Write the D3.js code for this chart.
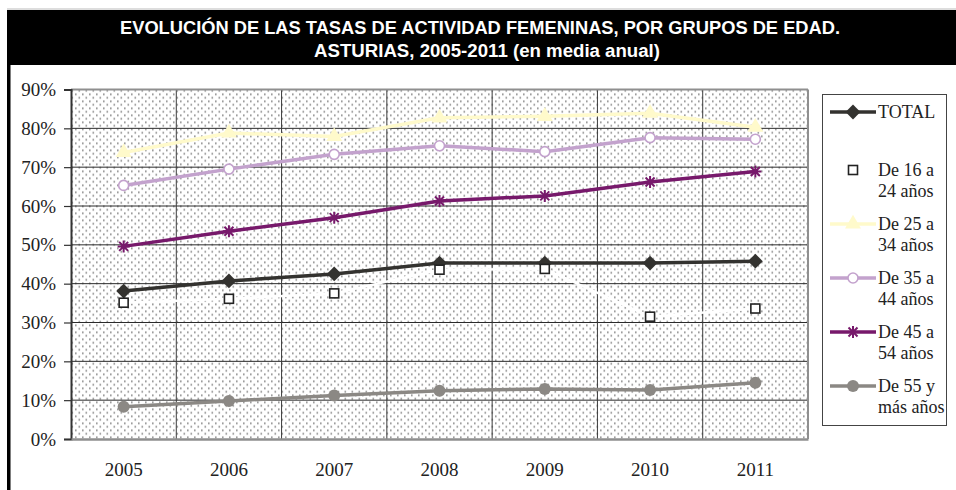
<!DOCTYPE html>
<html>
<head>
<meta charset="utf-8">
<script src="https://cdn.jsdelivr.net/npm/d3@7"></script>
<style>
  body { margin: 0; background: #fff; }
  svg { display: block; }
  .serif { font-family: 'Liberation Serif', 'Times New Roman', serif; }
</style>
</head>
<body>
<div id="chart"></div>
<script>
// Data (percentages)
const years = ["2005", "2006", "2007", "2008", "2009", "2010", "2011"];
const total   = [38.1, 40.7, 42.5, 45.3, 45.3, 45.3, 45.8];
const de16a24 = [35.1, 36.1, 37.5, 43.6, 43.8, 31.5, 33.6];
const de25a34 = [73.8, 78.8, 77.9, 82.7, 83.1, 83.9, 80.3];
const de35a44 = [65.3, 69.5, 73.3, 75.5, 74.0, 77.6, 77.2];
const de45a54 = [49.6, 53.5, 57.0, 61.3, 62.6, 66.2, 68.9];
const de55mas = [8.3, 9.8, 11.2, 12.4, 12.9, 12.6, 14.5];
const yTicks = [0, 10, 20, 30, 40, 50, 60, 70, 80, 90];

const series = [
  {name: ["TOTAL"], values: total, color: "#33322f", marker: "diamond"},
  {name: ["De 16 a", "24 años"], values: de16a24, color: "#ffffff", marker: "square"},
  {name: ["De 25 a", "34 años"], values: de25a34, color: "#fffacb", marker: "triangle"},
  {name: ["De 35 a", "44 años"], values: de35a44, color: "#c3a2cd", marker: "ring"},
  {name: ["De 45 a", "54 años"], values: de45a54, color: "#77196b", marker: "asterisk"},
  {name: ["De 55 y", "más años"], values: de55mas, color: "#8b8884", marker: "dot"}
];

const W = 956, H = 490;
const margin = {top: 89.5, right: 148, bottom: 51, left: 71};
const width = W - margin.left - margin.right,
    height = H - margin.top - margin.bottom;

const svg = d3.select("#chart").append("svg")
    .attr("width", W)
    .attr("height", H);

// dotted fill pattern
const defs = svg.append("defs");
const pat = defs.append("pattern")
    .attr("id", "dots")
    .attr("patternUnits", "userSpaceOnUse")
    .attr("width", 7).attr("height", 7);
pat.append("rect").attr("width", 7).attr("height", 7).attr("fill", "#fff");
pat.append("rect").attr("x", 0.5).attr("y", 0.5).attr("width", 1.6).attr("height", 1.6).attr("fill", "#858585");
pat.append("rect").attr("x", 4).attr("y", 4).attr("width", 1.6).attr("height", 1.6).attr("fill", "#858585");

// title bar
svg.append("line")
    .attr("x1", 7).attr("x2", W).attr("y1", 9).attr("y2", 9)
    .attr("stroke", "#bbb").attr("stroke-width", 1);
svg.append("rect")
    .attr("x", 7).attr("y", 10).attr("width", W - 7).attr("height", 55)
    .attr("fill", "#000");
svg.append("rect")
    .attr("x", 7).attr("y", 60).attr("width", 3.5).attr("height", H - 60)
    .attr("fill", "#000");
svg.append("text")
    .attr("x", 480).attr("y", 34)
    .attr("text-anchor", "middle")
    .attr("fill", "#fff")
    .attr("textLength", 720).attr("lengthAdjust", "spacingAndGlyphs")
    .style("font-family", "'Liberation Sans', Arial, sans-serif")
    .style("font-weight", "bold").style("font-size", "18px")
    .text("EVOLUCIÓN DE LAS TASAS DE ACTIVIDAD FEMENINAS, POR GRUPOS DE EDAD.");
svg.append("text")
    .attr("x", 487).attr("y", 57)
    .attr("text-anchor", "middle")
    .attr("fill", "#fff")
    .attr("textLength", 346).attr("lengthAdjust", "spacingAndGlyphs")
    .style("font-family", "'Liberation Sans', Arial, sans-serif")
    .style("font-weight", "bold").style("font-size", "18px")
    .text("ASTURIAS, 2005-2011 (en media anual)");

const g = svg.append("g")
    .attr("transform", "translate(" + margin.left + "," + margin.top + ")");

// scales
const xScale = d3.scaleBand()
    .domain(years)
    .range([0, width]);

const yScale = d3.scaleLinear()
    .domain([0, 90])
    .range([height, 0]);

// background
g.append("rect")
    .attr("width", width).attr("height", height)
    .attr("fill", "url(#dots)");

// horizontal grid
g.selectAll(".hgrid")
    .data(yTicks.slice(1))
    .enter().append("line")
    .attr("x1", 0).attr("x2", width)
    .attr("y1", d => yScale(d)).attr("y2", d => yScale(d))
    .attr("stroke", "#2a2a2a").attr("stroke-width", 1);

// vertical grid at category boundaries
g.selectAll(".vgrid")
    .data(years.slice(1))
    .enter().append("line")
    .attr("x1", d => xScale(d)).attr("x2", d => xScale(d))
    .attr("y1", 0).attr("y2", height)
    .attr("stroke", "#3a3a3a").attr("stroke-width", 1);

// frame: top and right
g.append("line").attr("x1", 0).attr("x2", width).attr("y1", 0).attr("y2", 0)
    .attr("stroke", "#8f8f8f").attr("stroke-width", 2);
g.append("line").attr("x1", width).attr("x2", width).attr("y1", 0).attr("y2", height)
    .attr("stroke", "#8f8f8f").attr("stroke-width", 2);

// y axis
const yAxis = g.append("g")
    .call(d3.axisLeft(yScale).tickValues(yTicks).tickFormat(d => d + "%").tickSize(7).tickPadding(8));
yAxis.attr("font-family", null).attr("font-size", null);
yAxis.select(".domain").attr("stroke", "#333").attr("stroke-width", 2);
yAxis.selectAll(".tick line").attr("stroke", "#333").attr("stroke-width", 1.2);
yAxis.selectAll("text")
    .attr("class", "serif")
    .attr("fill", "#222")
    .style("font-size", "19px");

// x axis
const xAxis = g.append("g")
    .attr("transform", "translate(0," + height + ")")
    .call(d3.axisBottom(xScale).tickSize(0).tickPadding(24));
xAxis.attr("font-family", null).attr("font-size", null);
xAxis.select(".domain").attr("stroke", "#8f8f8f").attr("stroke-width", 2.5);
xAxis.selectAll("text")
    .attr("class", "serif")
    .attr("fill", "#222")
    .style("font-size", "19px");

// markers
function drawMarker(sel, s) {
  const c = s.color;
  if (s.marker === "diamond") {
    sel.append("path").attr("d", d3.symbol(d3.symbolDiamond2, 140)())
        .attr("fill", c);
  } else if (s.marker === "square") {
    sel.append("rect").attr("x", -4.5).attr("y", -4.5).attr("width", 9).attr("height", 9)
        .attr("fill", "#fff").attr("stroke", "#222").attr("stroke-width", 1.6);
  } else if (s.marker === "triangle") {
    sel.append("path").attr("d", d3.symbol(d3.symbolTriangle, 110)())
        .attr("fill", c);
  } else if (s.marker === "ring") {
    sel.append("circle").attr("r", 5)
        .attr("fill", "#fff").attr("stroke", c).attr("stroke-width", 1.6);
  } else if (s.marker === "asterisk") {
    sel.append("path").attr("d", "M-6,0H6M0,-6V6M-4.5,-4.5L4.5,4.5M-4.5,4.5L4.5,-4.5")
        .attr("stroke", c).attr("stroke-width", 2).attr("fill", "none");
  } else if (s.marker === "dot") {
    sel.append("circle").attr("r", 6).attr("fill", c);
  }
}

const line = d3.line()
    .x((d, i) => xScale(years[i]) + xScale.bandwidth() / 2)
    .y(d => yScale(d));

series.forEach(function (s) {
  g.append("path")
      .datum(s.values)
      .attr("fill", "none")
      .attr("stroke", s.color)
      .attr("stroke-width", s.marker === "square" ? 2.5 : 3.5)
      .attr("d", line);
  g.selectAll(null)
      .data(s.values)
      .enter().append("g")
      .attr("transform", (d, i) => "translate(" + (xScale(years[i]) + xScale.bandwidth() / 2) + "," + yScale(d) + ")")
      .each(function () { drawMarker(d3.select(this), s); });
});

// legend
const legend = svg.append("g");
legend.append("rect")
    .attr("x", 822.5).attr("y", 94.5).attr("width", 124).attr("height", 331)
    .attr("fill", "#fff").attr("stroke", "#444").attr("stroke-width", 1);

series.forEach(function (s, i) {
  const y = i === 0 ? 112 : 170 + (i - 1) * 54;
  const item = legend.append("g").attr("transform", "translate(0," + y + ")");
  item.append("line")
      .attr("x1", 830).attr("x2", 876).attr("y1", 0).attr("y2", 0)
      .attr("stroke", s.color).attr("stroke-width", 3.5);
  const m = item.append("g").attr("transform", "translate(853,0)");
  drawMarker(m, s);
  s.name.forEach(function (t, j) {
    item.append("text")
        .attr("class", "serif")
        .attr("x", 878).attr("y", 6 + j * 21)
        .attr("fill", "#222")
        .style("font-size", "18px")
        .text(t);
  });
});
</script>
</body>
</html>
